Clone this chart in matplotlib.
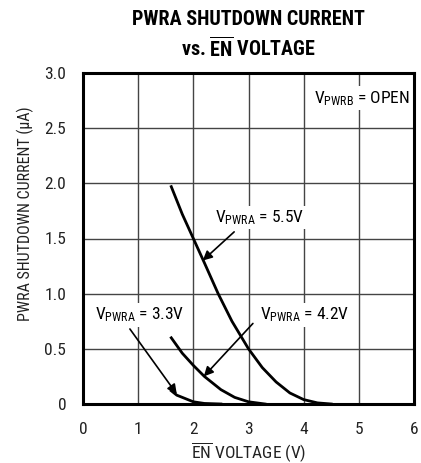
import matplotlib
matplotlib.use("Agg")
import matplotlib.pyplot as plt

FONT = ['Roboto Condensed', 'DejaVu Sans']
plt.rcParams['font.family'] = FONT
plt.rcParams['mathtext.fontset'] = 'custom'
plt.rcParams['mathtext.rm'] = 'Roboto Condensed'
plt.rcParams['mathtext.it'] = 'Roboto Condensed'
plt.rcParams['mathtext.bf'] = 'Roboto Condensed:bold'

# curves
x_55 = [1.6, 1.8, 2.0, 2.2, 2.45, 2.7, 3.0, 3.25, 3.5, 3.75, 4.0, 4.25, 4.5]
y_55 = [1.97, 1.72, 1.5, 1.28, 1.0, 0.75, 0.5, 0.33, 0.2, 0.1, 0.04, 0.01, 0.0]
x_42 = [1.6, 1.8, 2.0, 2.2, 2.5, 2.75, 3.0, 3.3]
y_42 = [0.6, 0.46, 0.35, 0.25, 0.13, 0.06, 0.02, 0.0]
x_33 = [1.6, 1.7, 1.8, 2.0, 2.2, 2.5]
y_33 = [0.12, 0.08, 0.06, 0.02, 0.005, 0.0]

xticks = [0, 1, 2, 3, 4, 5, 6]
yticks = [0, 0.5, 1.0, 1.5, 2.0, 2.5, 3.0]
ytick_labels = ["0", "0.5", "1.0", "1.5", "2.0", "2.5", "3.0"]

fig = plt.figure(figsize=(4.21, 4.63), dpi=100)
ax = fig.add_axes([83 / 421, 1 - 404 / 463, (414 - 83) / 421, (404 - 73) / 463])

for xs, ys in [(x_55, y_55), (x_42, y_42), (x_33, y_33)]:
    ax.plot(xs, ys, color="black", lw=2, zorder=3)

ax.set_xlim(0, 6)
ax.set_ylim(0, 3)
ax.set_xticks(xticks)
ax.set_yticks(yticks)
ax.set_yticklabels(ytick_labels)
ax.tick_params(length=0, labelsize=12.5, colors="#222222")
ax.tick_params(axis="x", pad=13)
ax.tick_params(axis="y", pad=12)
ax.grid(True, color="#444444", lw=1)
for s in ax.spines.values():
    s.set_linewidth(2.2)

ax.set_xlabel(r"$\overline{\mathrm{EN}}$ VOLTAGE (V)", fontsize=12.5, color="#222222", va="center")
ax.xaxis.set_label_coords(0.5, -0.145)
ax.set_ylabel("PWRA SHUTDOWN CURRENT (µA)", fontsize=11.5, color="#222222", va="center")
ax.yaxis.set_label_coords(-0.175, 0.574)

fig.text(0.59, 0.978, "PWRA SHUTDOWN CURRENT", ha="center", va="top",
         fontsize=14.5, fontweight="bold")
fig.text(0.59, 0.922, r"vs. $\overline{\mathbf{EN}}$ VOLTAGE", ha="center", va="top",
         fontsize=14.5, fontweight="bold")

box = dict(boxstyle="square,pad=0.15", fc="white", ec="none")
ax.text(5.92, 2.77, r"V$_{\mathrm{PWRB}}$ = OPEN", ha="right", va="center",
        fontsize=12.5, bbox=box, zorder=4)

arrow = dict(arrowstyle="-|>", color="black", lw=1.2, mutation_scale=14, shrinkA=0, shrinkB=0)
ax.text(3.2, 1.69, r"V$_{\mathrm{PWRA}}$ = 5.5V", ha="center", va="center",
        fontsize=12.5, bbox=box, zorder=4)
ax.annotate("", xy=(2.17, 1.3), xytext=(2.74, 1.56), arrowprops=arrow, zorder=5)

ax.text(1.03, 0.81, r"V$_{\mathrm{PWRA}}$ = 3.3V", ha="center", va="center",
        fontsize=12.5, bbox=box, zorder=4)
ax.annotate("", xy=(1.7, 0.09), xytext=(0.85, 0.68), arrowprops=arrow, zorder=5)

ax.text(4.02, 0.81, r"V$_{\mathrm{PWRA}}$ = 4.2V", ha="center", va="center",
        fontsize=12.5, bbox=box, zorder=4)
ax.annotate("", xy=(2.19, 0.25), xytext=(3.08, 0.73), arrowprops=arrow, zorder=5)

fig.savefig("out.png", dpi=100)
